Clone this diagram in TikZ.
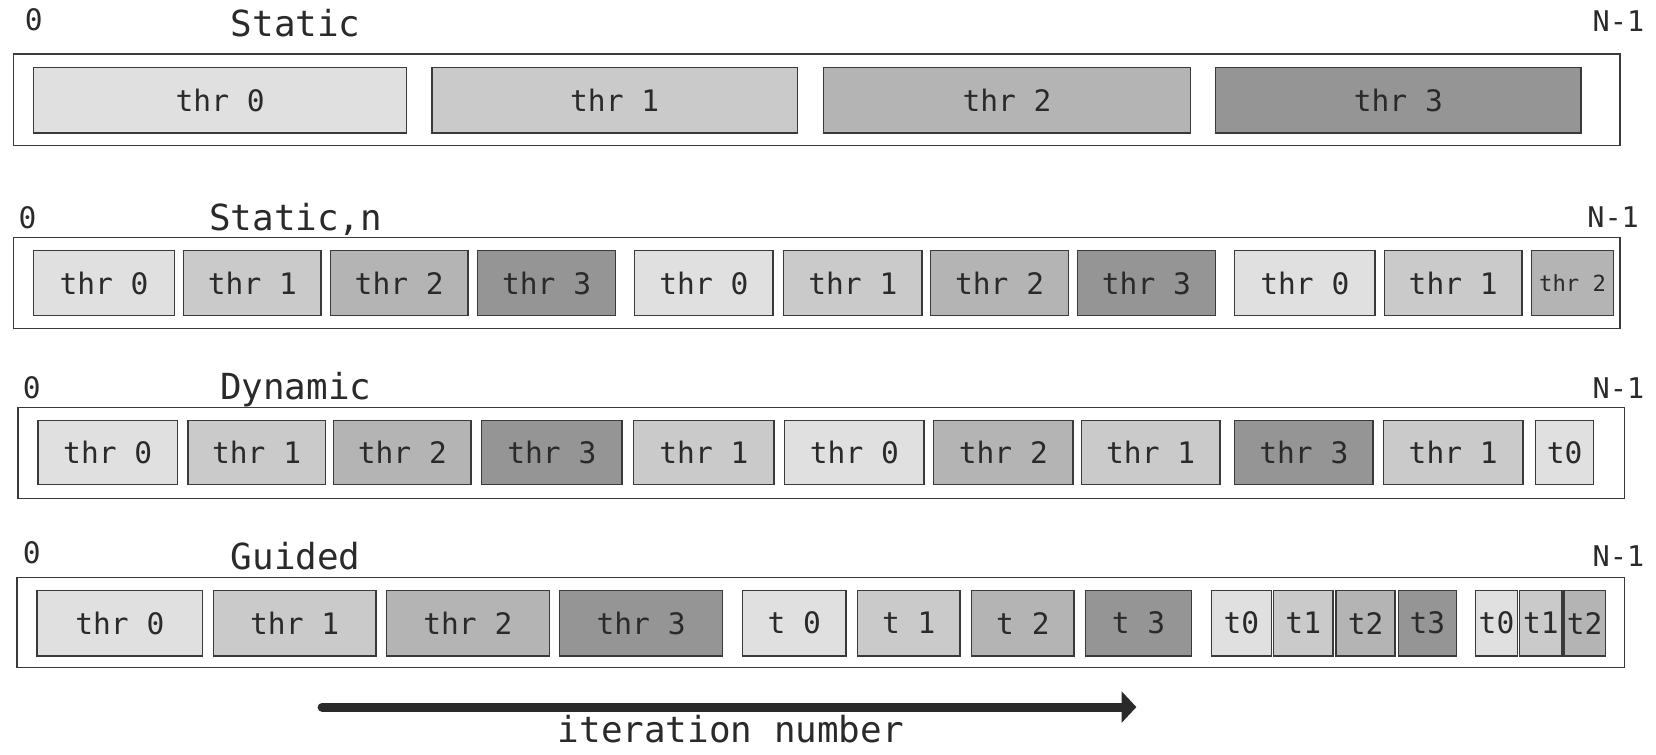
\documentclass[tikz,border=0pt]{standalone}
\usepackage{fontspec}
\setmonofont{DejaVu Sans Mono}
\usetikzlibrary{arrows.meta}
\definecolor{ca}{HTML}{E0E0E0}
\definecolor{cb}{HTML}{CACACA}
\definecolor{cc}{HTML}{B4B4B4}
\definecolor{cd}{HTML}{959595}
\definecolor{ink}{HTML}{2A2A2A}
\definecolor{edge}{HTML}{3A3A3A}
% name, x1, x2, y1, y2, fill, text, extra style
\newcommand\cellnode[8][]{%
  \node[cellst,#1,fill=#7,minimum width={(#4-#3)*1pt},minimum height={(#6-#5)*1pt}]
    (#2) at ({(#3+#4)/2},{(#5+#6)/2}) {#8};}
\newcommand\framenode[5]{%
  \node[framest,minimum width={(#3-#2)*1pt},minimum height={(#5-#4)*1pt}]
    (#1) at ({(#2+#3)/2},{(#4+#5)/2}) {};}
\begin{document}
\begin{tikzpicture}[x=1pt,y=-1pt,
  cellst/.style={draw=edge,line width=1.3pt,inner sep=0pt,text=ink,
    font=\ttfamily\fontsize{28}{32}\selectfont},
  smallst/.style={font=\ttfamily\fontsize{21}{24}\selectfont},
  framest/.style={draw=edge,line width=1.4pt,fill=white,inner sep=0pt},
  titlest/.style={anchor=base,text=ink,inner sep=0pt,
    font=\ttfamily\fontsize{34}{38}\selectfont},
  idxst/.style={anchor=base,text=ink,inner sep=0pt,
    font=\ttfamily\fontsize{28}{30}\selectfont},
  endst/.style={anchor=base east,text=ink,inner sep=0pt,
    font=\ttfamily\fontsize{27}{30}\selectfont}]
\useasboundingbox (0,0) rectangle (1568,714);

% ---------- Static ----------
\node[idxst] (z1) at (32,29) {0};
\node[titlest] (t1) at (280,35) {Static};
\node[endst] (n1) at (1557,30) {N-1};
\framenode{f1}{13}{1534}{51}{138}
\cellnode{s1a}{32}{385}{64}{126}{ca}{thr 0}
\cellnode{s1b}{409}{755}{64}{126}{cb}{thr 1}
\cellnode{s1c}{780}{1127}{64}{126}{cc}{thr 2}
\cellnode{s1d}{1151}{1497}{64}{126}{cd}{thr 3}

% ---------- Static,n ----------
\node[idxst] (z2) at (26,216) {0};
\node[titlest] (t2) at (280,218) {Static,n};
\node[endst] (n2) at (1552,215) {N-1};
\framenode{f2}{13}{1534}{225}{311}
\cellnode{s2a}{32}{165}{237}{299}{ca}{thr 0}
\cellnode{s2b}{174}{304}{237}{299}{cb}{thr 1}
\cellnode{s2c}{313}{443}{237}{299}{cc}{thr 2}
\cellnode{s2d}{452}{583}{237}{299}{cd}{thr 3}
\cellnode{s2e}{601}{732}{237}{299}{ca}{thr 0}
\cellnode{s2f}{742}{873}{237}{299}{cb}{thr 1}
\cellnode{s2g}{881}{1012}{237}{299}{cc}{thr 2}
\cellnode{s2h}{1020}{1151}{237}{299}{cd}{thr 3}
\cellnode{s2i}{1169}{1302}{237}{299}{ca}{thr 0}
\cellnode{s2j}{1311}{1441}{237}{299}{cb}{thr 1}
\cellnode[smallst]{s2k}{1450}{1528}{237}{299}{cc}{thr 2}

% ---------- Dynamic ----------
\node[idxst] (z3) at (30,377) {0};
\node[titlest] (t3) at (280,378) {Dynamic};
\node[endst] (n3) at (1557,377) {N-1};
\framenode{f3}{17}{1538}{386}{472}
\cellnode{d1}{36}{168}{398}{459}{ca}{thr 0}
\cellnode{d2}{178}{308}{398}{459}{cb}{thr 1}
\cellnode{d3}{316}{446}{398}{459}{cc}{thr 2}
\cellnode{d4}{456}{589}{398}{459}{cd}{thr 3}
\cellnode{d5}{600}{733}{398}{459}{cb}{thr 1}
\cellnode{d6}{743}{875}{398}{459}{ca}{thr 0}
\cellnode{d7}{884}{1016}{398}{459}{cc}{thr 2}
\cellnode{d8}{1024}{1155}{398}{459}{cb}{thr 1}
\cellnode{d9}{1169}{1300}{398}{459}{cd}{thr 3}
\cellnode{d10}{1310}{1442}{398}{459}{cb}{thr 1}
\cellnode{d11}{1454}{1509}{398}{459}{ca}{t0}

% ---------- Guided ----------
\node[idxst] (z4) at (30,534) {0};
\node[titlest] (t4) at (280,539) {Guided};
\node[endst] (n4) at (1557,536) {N-1};
\framenode{f4}{16}{1538}{547}{632}
\cellnode{g1}{35}{192}{559}{621}{ca}{thr 0}
\cellnode{g2}{202}{356}{559}{621}{cb}{thr 1}
\cellnode{g3}{366}{520}{559}{621}{cc}{thr 2}
\cellnode{g4}{530}{684}{559}{621}{cd}{thr 3}
\cellnode{g5}{703}{801}{559}{621}{ca}{t 0}
\cellnode{g6}{812}{909}{559}{621}{cb}{t 1}
\cellnode{g7}{920}{1017}{559}{621}{cc}{t 2}
\cellnode{g8}{1028}{1128}{559}{621}{cd}{t 3}
\cellnode{g9}{1147}{1204}{559}{621}{ca}{t0}
\cellnode{g10}{1206}{1262}{559}{621}{cb}{t1}
\cellnode{g11}{1265}{1321}{559}{621}{cc}{t2}
\cellnode{g12}{1324}{1379}{559}{621}{cd}{t3}
\cellnode{g13}{1397}{1437}{559}{621}{ca}{t0}
\cellnode{g14}{1439}{1479}{559}{621}{cb}{t1}
\cellnode{g15}{1481}{1520}{559}{621}{cc}{t2}

% ---------- arrow ----------
\coordinate (as) at (305,669.5);
\coordinate (ae) at (1076,669.5);
\draw[ink,line width=8.5pt,line cap=round,-{Triangle[length=14pt,width=29pt]}] (as) -- (ae);
\node[titlest] (lab) at (692,703) {iteration number};
\end{tikzpicture}
\end{document}
